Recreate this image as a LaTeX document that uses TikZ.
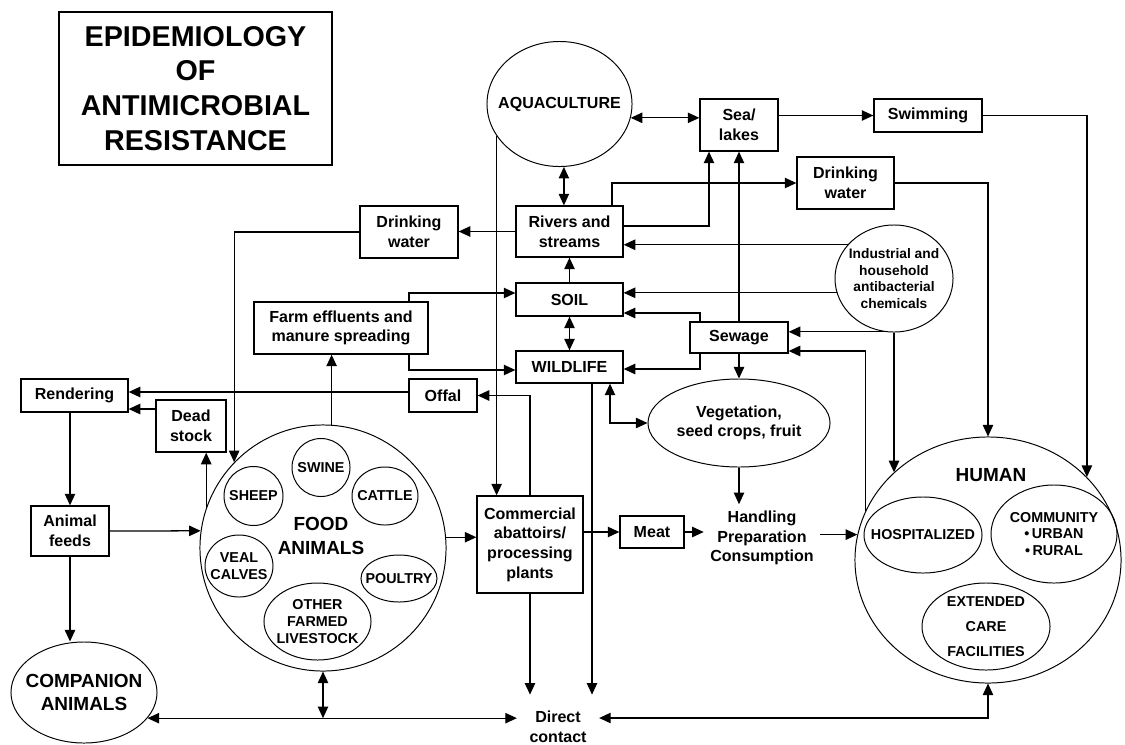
\documentclass[tikz,border=0pt]{standalone}
\usepackage{fontspec}
\setmainfont{Liberation Sans}
\usepackage{tikz}
\usetikzlibrary{shapes.geometric, arrows.meta}

\newcommand{\fnttitle}{\fontsize{20.4}{24.8}\selectfont\bfseries}
\newcommand{\fntbox}{\fontsize{11.4}{14}\selectfont\bfseries}
\newcommand{\fntbig}{\fontsize{13.5}{16.8}\selectfont\bfseries}
\newcommand{\fntin}{\fontsize{10.2}{12}\selectfont\bfseries}
\newcommand{\fntind}{\fontsize{9.8}{11.8}\selectfont\bfseries}

\begin{document}
\begin{tikzpicture}[x=0.025cm, y=-0.025cm, line width=0.9pt,
    >={Triangle[length=2.9mm, width=2.6mm]},
    box/.style={draw, rectangle, align=center, inner sep=0pt, font=\fntbox},
    oval/.style={draw, ellipse, inner sep=0pt, line width=0.7pt},
    plain/.style={align=center, inner sep=0pt, font=\fntbox},
    every label/.style={align=center, inner sep=0pt}]

        \useasboundingbox (0,0) rectangle (1125,744);

        % Title
        \node[box, font=\fnttitle, minimum width=6.825cm, minimum height=3.825cm] (title) at (195.5,88.5) {EPIDEMIOLOGY\\OF\\ANTIMICROBIAL\\RESISTANCE};

        % Water and environment
        \node[oval, minimum width=3.625cm, minimum height=3.125cm, label={[font=\fntbox]center:AQUACULTURE}] (aqua) at (559.5,104) {};
        \node[box, minimum width=1.95cm, minimum height=1.3cm] (sea) at (739,125) {Sea/\\lakes};
        \node[box, minimum width=2.7cm, minimum height=0.825cm] (swim) at (928,115.5) {Swimming};
        \node[box, minimum width=2.425cm, minimum height=1.3cm] (dwhum) at (845.5,183) {Drinking\\water};
        \node[oval, minimum width=2.95cm, minimum height=2.675cm, label={[font=\fntind]center:{Industrial and\\household\\antibacterial\\chemicals}}] (chem) at (894,278.5) {};
        \node[box, minimum width=2.675cm, minimum height=1.275cm] (rivers) at (569.5,231.5) {Rivers and\\streams};
        \node[box, minimum width=2.45cm, minimum height=1.3cm] (dwfarm) at (409,232) {Drinking\\water};
        \node[box, minimum width=2.675cm, minimum height=0.825cm] (soil) at (569.5,299.5) {SOIL};
        \node[box, minimum width=2.675cm, minimum height=0.8cm] (wild) at (569.5,367) {WILDLIFE};
        \node[box, minimum width=2.45cm, minimum height=0.775cm] (sewage) at (739,337.5) {Sewage};
        \node[oval, minimum width=4.55cm, minimum height=2.2cm, label={[font=\fntbox]center:{Vegetation,\\seed crops, fruit}}] (veg) at (739,423) {};

        % Farm side
        \node[box, minimum width=4.35cm, minimum height=1.3cm] (farm) at (341,328) {Farm effluents and\\manure spreading};
        \node[box, minimum width=1.7cm, minimum height=0.825cm] (offal) at (443,395.5) {Offal};
        \node[box, minimum width=2.675cm, minimum height=0.825cm] (rend) at (74.5,395.5) {Rendering};
        \node[box, minimum width=1.75cm, minimum height=1.3cm] (dead) at (191,426) {Dead\\stock};
        \node[box, minimum width=1.95cm, minimum height=1.25cm] (feeds) at (70,531) {Animal\\feeds};
        \node[oval, minimum width=3.65cm, minimum height=2.525cm, label={[font=\fntbig]center:{COMPANION\\ANIMALS}}] (pets) at (84,692.5) {};

        % Food animals
        \node[oval, minimum size=6.15cm] (food) at (323,548) {};
        \node[font=\fntbig, align=center, inner sep=0pt] (foodtxt) at (321,536) {FOOD\\ANIMALS};
        \node[oval, minimum size=1.475cm, label={[font=\fntin]center:SHEEP}] (sheep) at (253.5,496) {};
        \node[oval, minimum size=1.45cm, label={[font=\fntin]center:SWINE}] (swine) at (321,467.5) {};
        \node[oval, minimum width=1.65cm, minimum height=1.45cm, label={[font=\fntin]center:CATTLE}] (cattle) at (385,496) {};
        \node[oval, minimum width=1.7cm, minimum height=1.55cm, label={[font=\fntin]center:{VEAL\\CALVES}}] (veal) at (239,566) {};
        \node[oval, minimum width=1.9cm, minimum height=1.175cm, label={[font=\fntin]center:POULTRY}] (poultry) at (399,578.5) {};
        \node[oval, minimum width=2.675cm, minimum height=1.925cm, label={[font=\fntin]center:{OTHER\\FARMED\\LIVESTOCK}}] (other) at (317.5,621.5) {};

        % Processing and food chain
        \node[box, minimum width=2.65cm, minimum height=2.425cm] (abatt) at (530,544.5) {Commercial\\abattoirs/\\processing\\plants};
        \node[box, minimum width=1.6cm, minimum height=0.8cm] (meat) at (652,532) {Meat};
        \node[plain, inner sep=0.15cm] (handle) at (762,538) {Handling\\Preparation\\Consumption};
        \node[plain, inner xsep=0.3cm, inner ysep=0.4cm] (direct) at (558,727) {Direct\\contact};

        % Human
        \node[oval, minimum width=6.65cm, minimum height=6.15cm] (human) at (988,560) {};
        \node[font=\fntbig, inner sep=0pt] (humtxt) at (991,475) {HUMAN};
        \node[oval, minimum width=2.95cm, minimum height=1.9cm, label={[font=\fntin]center:HOSPITALIZED}] (hosp) at (923,535) {};
        \node[oval, minimum width=3.15cm, minimum height=2.45cm, label={[font=\fntin]center:{COMMUNITY\\\textbullet\,URBAN\\\textbullet\,RURAL}}] (commu) at (1054,534) {};
        \node[oval, minimum width=3.2cm, minimum height=2.175cm, label={[font=\fntin]center:{EXTENDED\\[5.7pt]CARE\\[5.7pt]FACILITIES}}] (care) at (986,626.5) {};

        % Water connections
        \draw[<->] (aqua.349) -- (aqua.349 -| sea.west);
        \draw[<->] (aqua.274) -- (aqua.274 |- rivers.north);
        \draw[->] (aqua.207) -- (aqua.207 |- abatt.north);
        \draw[->] (swim.west -| sea.east) -- (swim.west);
        \draw[->] (swim.east) -| (human.40);
        \draw[->] (rivers.east |- 0,226) -| (sea.south -| 709,0);
        \draw[->] (rivers.north -| 612,0) |- (dwhum.west);
        \draw[->] (dwhum.east) -| (human.north);
        \draw[->] (rivers.west) -- (rivers.west -| dwfarm.east);
        \draw[->] (dwfarm.west) -| (food.136);

        % Chemicals and sewage
        \draw[->] (chem.144) -- (chem.144 -| rivers.east);
        \draw[->] (chem.194) -- (chem.194 -| soil.east);
        \draw[->] (chem.260) -- (chem.260 -| sewage.east);
        \draw[->] (chem.south) -- (chem.south |- human.137);
        \draw[->] (human.158) |- (sewage.east |- 0,351);
        \draw[->] (sewage.north) -- (sea.south);
        \draw[->] (sewage.south) -- (veg.north);
        \draw[->] (sewage.north -| 700,0) |- (soil.east |- 0,313);
        \draw[->] (sewage.south -| 700,0) |- (wild.east |- 0,369);

        % Soil and wildlife
        \draw[->] (soil.north) -- (rivers.south);
        \draw[<->] (soil.south) -- (wild.north);
        \draw[->] (farm.north -| 409,0) |- (soil.west |- 0,293);
        \draw[->] (farm.south -| 409,0) |- (wild.west |- 0,370);
        \draw[<->] (wild.south -| 610,0) |- (veg.west);
        \draw[->] (wild.south -| 592,0) -- (direct.north -| 592,0);

        % Farm flows
        \draw[->] (food.86) -- (food.86 |- farm.south);
        \draw[->] (food.161) -- (food.161 |- dead.south);
        \draw[->] (dead.west |- 0,409) -- (rend.east |- 0,409);
        \draw[->] (offal.west |- 0,392) -- (rend.east |- 0,392);
        \draw[->] (abatt.north) |- (offal.east);
        \draw[->] (feeds.north |- rend.south) -- (feeds.north);
        \draw[->] (feeds.south) -- (feeds.south |- pets.north);
        \draw[->] (feeds.east) -- (food.172);
        \draw[->] (food.5) -- (food.5 -| abatt.west);

        % Food chain to humans
        \draw[->] (abatt.east |- meat.west) -- (meat.west);
        \draw[->] (meat.east) -- (meat.east -| handle.west);
        \draw[->] (veg.south) -- (veg.south |- handle.north);
        \draw[->] (handle.east |- human.169) -- (human.169);

        % Direct contact
        \draw[->] (abatt.south) -- (abatt.south |- direct.north);
        \draw[<->] (pets.338) -- (pets.338 -| direct.west);
        \draw[<->] (food.south) -- (food.south |- pets.338);
        \draw[<->] (human.south) |- (direct.east |- 0,718);

        \end{tikzpicture}
\end{document}
